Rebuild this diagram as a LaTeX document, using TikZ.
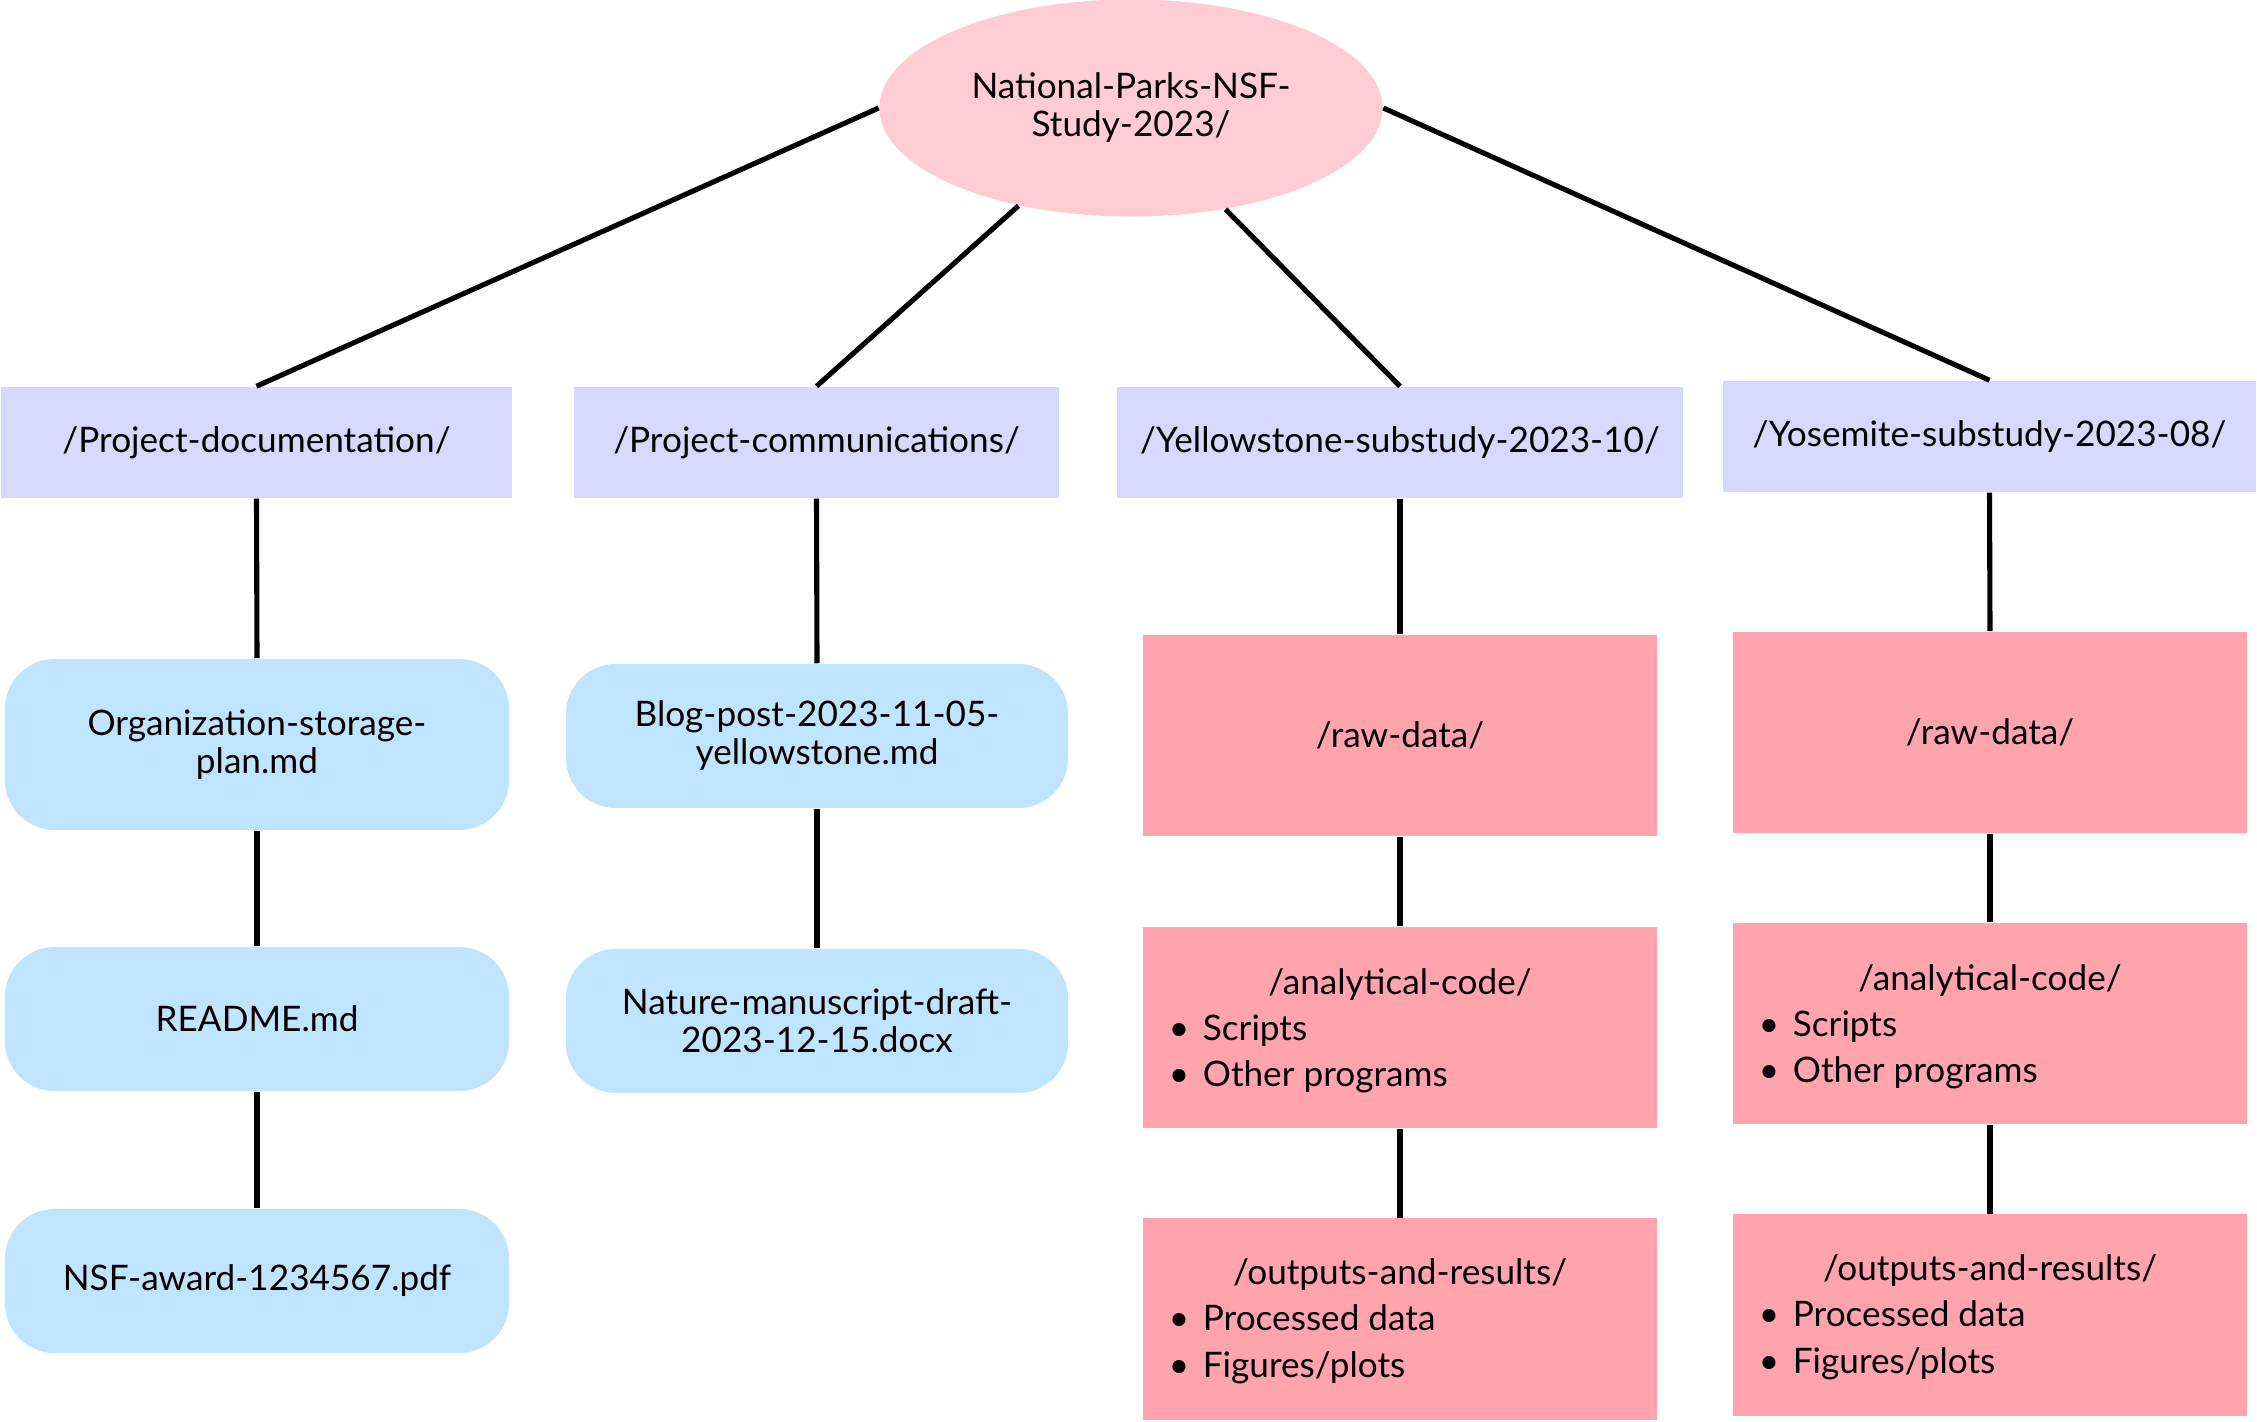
\documentclass[tikz,border=0pt]{standalone}
\usepackage{fontspec}
\setmainfont{Lato}
\usetikzlibrary{shapes.geometric,calc}
\definecolor{rootc}{HTML}{FFCCD3}
\definecolor{lav}{HTML}{D7D9FC}
\definecolor{lblue}{HTML}{C0E4FD}
\definecolor{pinkc}{HTML}{FFA3AE}
\begin{document}
\begin{tikzpicture}[x=0.01cm,y=-0.01cm,
  font=\fontsize{10pt}{10.8pt}\selectfont,
  conn/.style={line width=1.45pt, black},
  dirbox/.style={fill=lav, inner sep=0, minimum height=1.11cm},
  filebox/.style={fill=lblue, rounded corners=0.5cm, inner sep=0, minimum width=5.04cm, align=center},
  databox/.style={fill=pinkc, inner sep=0, minimum width=5.14cm, minimum height=2.01cm},
  txt/.style={inner sep=0, anchor=mid},
  bul/.style={inner sep=0, anchor=mid west},
]
\useasboundingbox[fill=white] (0,0) rectangle (2257,1422);

% root
\node[ellipse, fill=rootc, inner sep=0, minimum width=5.03cm, minimum height=2.17cm, align=center]
  (root) at (1131,108) {National-Parks-NSF-\\Study-2023/};

% level 1
\node[dirbox, minimum width=5.11cm] (doc) at (256.5,442.5) {\raisebox{-0.03cm}{/Project-documentation/}};
\node[dirbox, minimum width=4.85cm] (comm) at (816.5,442.5) {\raisebox{-0.03cm}{/Project-communications/}};
\node[dirbox, minimum width=5.66cm] (yell) at (1400,442.5) {\raisebox{-0.03cm}{/Yellowstone-substudy-2023-10/}};
\node[dirbox, minimum width=5.33cm] (yos) at (1989.5,436.5) {\raisebox{-0.03cm}{/Yosemite-substudy-2023-08/}};

% column 1
\node[filebox, minimum height=1.71cm] (org) at (257,744.5) {Organization-storage-\\plan.md};
\node[filebox, minimum height=1.44cm] (readme) at (257,1019) {\raisebox{-0.03cm}{README.md}};
\node[filebox, minimum height=1.44cm] (nsf) at (257,1281) {\raisebox{-0.03cm}{NSF-award-1234567.pdf}};

% column 2
\node[filebox, minimum width=5.02cm, minimum height=1.44cm] (blog) at (817,736) {Blog-post-2023-11-05-\\yellowstone.md};
\node[filebox, minimum width=5.02cm, minimum height=1.44cm] (nature) at (817,1021) {Nature-manuscript-draft-\\2023-12-15.docx};

% column 3
\node[databox] (yraw) at (1400,735.5) {\raisebox{-0.03cm}{/raw-data/}};
\node[databox] (yac) at (1400,1027.5) {};
\node[txt] (yact) at ($(yac.center)+(0,-42)$) {/analytical-code/};
\node[bul] (yac1) at ($(yac.west)+(26,4)$) {\makebox[0.34cm][l]{\textbullet}Scripts};
\node[bul] (yac2) at ($(yac.west)+(26,50)$) {\makebox[0.34cm][l]{\textbullet}Other programs};
\node[databox] (yout) at (1400,1319) {};
\node[txt] (youtt) at ($(yout.center)+(0,-43)$) {/outputs-and-results/};
\node[bul] (yout1) at ($(yout.west)+(26,3)$) {\makebox[0.34cm][l]{\textbullet}Processed data};
\node[bul] (yout2) at ($(yout.west)+(26,50)$) {\makebox[0.34cm][l]{\textbullet}Figures/plots};

% column 4
\node[databox] (sraw) at (1990,732.5) {\raisebox{-0.03cm}{/raw-data/}};
\node[databox] (sac) at (1990,1023.5) {};
\node[txt] (sact) at ($(sac.center)+(0,-42)$) {/analytical-code/};
\node[bul] (sac1) at ($(sac.west)+(26,4)$) {\makebox[0.34cm][l]{\textbullet}Scripts};
\node[bul] (sac2) at ($(sac.west)+(26,50)$) {\makebox[0.34cm][l]{\textbullet}Other programs};
\node[databox] (sout) at (1990,1315) {};
\node[txt] (soutt) at ($(sout.center)+(0,-43)$) {/outputs-and-results/};
\node[bul] (sout1) at ($(sout.west)+(26,3)$) {\makebox[0.34cm][l]{\textbullet}Processed data};
\node[bul] (sout2) at ($(sout.west)+(26,50)$) {\makebox[0.34cm][l]{\textbullet}Figures/plots};

% connectors
\draw[conn] (root.west) -- (doc.north);
\draw[conn] (root.221.7) -- (comm.north);
\draw[conn] (root.313.6) -- (yell.north);
\draw[conn] (root.east) -- (yos.north);

\draw[conn] (doc.south) -- (org.north);
\draw[conn] (org.south) -- (readme.north);
\draw[conn] (readme.south) -- (nsf.north);

\draw[conn] (comm.south) -- (blog.north);
\draw[conn] (blog.south) -- (nature.north);

\draw[conn] (yell.south) -- (yraw.north);
\draw[conn] (yraw.south) -- (yac.north);
\draw[conn] (yac.south) -- (yout.north);

\draw[conn] (yos.south) -- (sraw.north);
\draw[conn] (sraw.south) -- (sac.north);
\draw[conn] (sac.south) -- (sout.north);
\end{tikzpicture}
\end{document}
